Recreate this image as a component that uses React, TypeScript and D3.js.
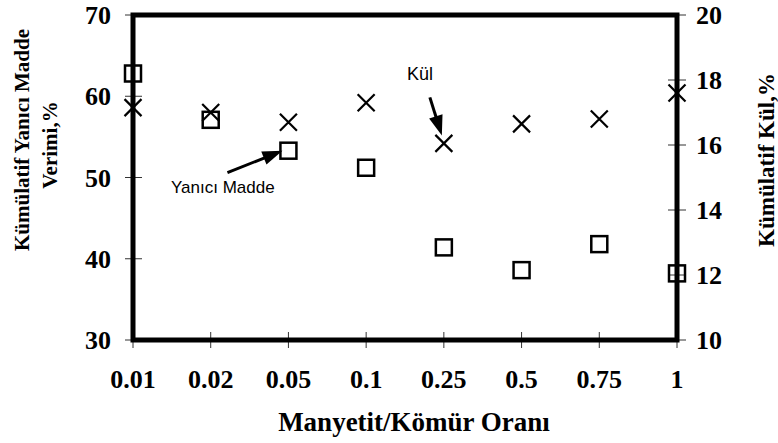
import * as d3 from 'd3';

const ratios = ['0.01', '0.02', '0.05', '0.1', '0.25', '0.5', '0.75', '1'];
const combustibleYield = [62.8, 57.1, 53.3, 51.2, 41.4, 38.6, 41.8, 38.2];
const ashContent = [17.15, 17.0, 16.7, 17.3, 16.05, 16.65, 16.8, 17.6];
const leftTicks = [30, 40, 50, 60, 70];
const rightTicks = [10, 12, 14, 16, 18, 20];

const W = 778;
const H = 443;
const m = { top: 15, right: 101, bottom: 103, left: 133 };

const serif = '"Liberation Serif", "Times New Roman", serif';
const sans = '"Liberation Sans", Arial, sans-serif';

export default function App() {
  const x = d3.scalePoint<string>().domain(ratios).range([m.left, W - m.right]).padding(0);
  const yL = d3.scaleLinear().domain([30, 70]).range([H - m.bottom, m.top]);
  const yR = d3.scaleLinear().domain([10, 20]).range([H - m.bottom, m.top]);
  const x0 = m.left;
  const x1 = W - m.right;
  const y0 = H - m.bottom;
  const y1 = m.top;
  const sq = 16;
  const xs = 8.5;

  // arrow tips point at the annotated markers
  const ashTip = { x: x('0.25')! - 2, y: yR(ashContent[4]) - 8 };
  const ashTail = { x: ashTip.x - 12, y: ashTip.y - 38 };
  const ymTip = { x: x('0.05')! - 6, y: yL(combustibleYield[2]) };
  const ymTail = { x: ymTip.x - 55, y: ymTip.y + 22 };

  const arrowHead = (tail: { x: number; y: number }, tip: { x: number; y: number }) => {
    const a = Math.atan2(tip.y - tail.y, tip.x - tail.x);
    const len = 20;
    const half = 7;
    const bx = tip.x - len * Math.cos(a);
    const by = tip.y - len * Math.sin(a);
    const px = -Math.sin(a) * half;
    const py = Math.cos(a) * half;
    return `M${tip.x},${tip.y}L${bx + px},${by + py}L${bx - px},${by - py}Z`;
  };

  return (
    <svg width={W} height={H} style={{ position: 'absolute', left: 0, top: 0, background: '#fff' }}>
      {/* ticks */}
      {leftTicks.map((t) => (
        <g key={'l' + t}>
          <line x1={x0 - 8} x2={x0 + 9} y1={yL(t)} y2={yL(t)} stroke="#333" strokeWidth={1} />
          <text x={x0 - 22} y={yL(t)} dy="0.35em" textAnchor="end" fontFamily={serif} fontWeight="bold" fontSize={26}>
            {t}
          </text>
        </g>
      ))}
      {rightTicks.map((t) => (
        <g key={'r' + t}>
          <line x1={x1 - 9} x2={x1 + 9} y1={yR(t)} y2={yR(t)} stroke="#333" strokeWidth={1} />
          <text x={x1 + 19} y={yR(t)} dy="0.35em" textAnchor="start" fontFamily={serif} fontWeight="bold" fontSize={26}>
            {t}
          </text>
        </g>
      ))}
      {ratios.map((r) => (
        <g key={'x' + r}>
          <line x1={x(r)} x2={x(r)} y1={y0 - 8} y2={y0 + 8} stroke="#333" strokeWidth={1} />
          <text x={x(r)} y={388} textAnchor="middle" fontFamily={serif} fontWeight="bold" fontSize={26}>
            {r}
          </text>
        </g>
      ))}

      {/* frame */}
      <rect x={x0} y={y1} width={x1 - x0} height={y0 - y1} fill="none" stroke="#000" strokeWidth={5} />

      {/* Yanıcı Madde */}
      {ratios.map((r, i) => (
        <rect
          key={'s' + r}
          x={x(r)! - sq / 2}
          y={yL(combustibleYield[i]) - sq / 2}
          width={sq}
          height={sq}
          fill="none"
          stroke="#000"
          strokeWidth={2.5}
        />
      ))}
      {/* Kül */}
      {ratios.map((r, i) => {
        const cx = x(r)!;
        const cy = yR(ashContent[i]);
        return (
          <path
            key={'c' + r}
            d={`M${cx - xs},${cy - xs}L${cx + xs},${cy + xs}M${cx - xs},${cy + xs}L${cx + xs},${cy - xs}`}
            stroke="#000"
            strokeWidth={2.2}
            fill="none"
          />
        );
      })}

      {/* annotations */}
      <text x={407} y={80} fontFamily={sans} fontSize={18}>Kül</text>
      <line x1={ashTail.x} y1={ashTail.y} x2={ashTip.x - (ashTip.x - ashTail.x) * 0.3} y2={ashTip.y - (ashTip.y - ashTail.y) * 0.3} stroke="#000" strokeWidth={3} />
      <path d={arrowHead(ashTail, ashTip)} fill="#000" />
      <text x={171} y={193} fontFamily={sans} fontSize={17}>Yanıcı Madde</text>
      <line x1={ymTail.x} y1={ymTail.y} x2={ymTip.x - (ymTip.x - ymTail.x) * 0.3} y2={ymTip.y - (ymTip.y - ymTail.y) * 0.3} stroke="#000" strokeWidth={3} />
      <path d={arrowHead(ymTail, ymTip)} fill="#000" />

      {/* axis titles */}
      <text transform="translate(22,140) rotate(-90)" textAnchor="middle" dy="0.35em" fontFamily={serif} fontWeight="bold" fontSize={21}>
        Kümülatif Yanıcı Madde
      </text>
      <text transform="translate(50,145) rotate(-90)" textAnchor="middle" dy="0.35em" fontFamily={serif} fontWeight="bold" fontSize={21}>
        Verimi,%
      </text>
      <text transform="translate(766,160) rotate(-90)" textAnchor="middle" dy="0.35em" fontFamily={serif} fontWeight="bold" fontSize={23}>
        Kümülatif Kül,%
      </text>
      <text x={414} y={431} textAnchor="middle" fontFamily={serif} fontWeight="bold" fontSize={27}>
        Manyetit/Kömür Oranı
      </text>
    </svg>
  );
}
